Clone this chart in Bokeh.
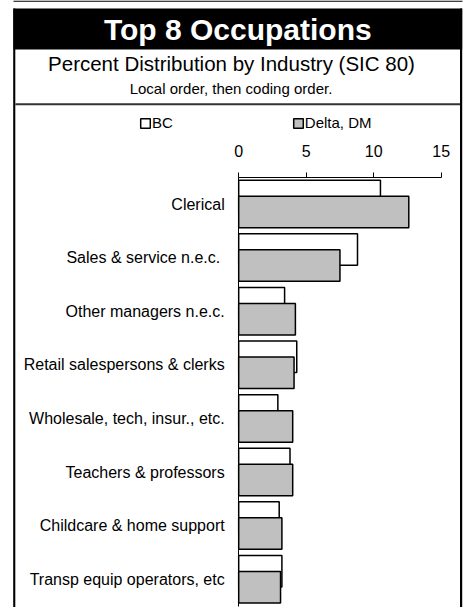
from bokeh.plotting import figure
from bokeh.models import (Range1d, LinearAxis, FixedTicker, Legend, LegendItem,
                          ColumnDataSource)
from bokeh.transform import dodge
from bokeh.core.properties import value
from bokeh.embed import file_html
from bokeh.resources import INLINE

# ---------------- data ----------------
categories = [
    "Clerical",
    "Sales & service  n.e.c.",
    "Other managers n.e.c.",
    "Retail salespersons & clerks",
    "Wholesale, tech, insur., etc.",
    "Teachers & professors",
    "Childcare & home support",
    "Transp equip operators, etc",
]
bc_values = [10.5, 8.8, 3.4, 4.3, 2.9, 3.8, 3.0, 3.2]
dm_values = [12.6, 7.5, 4.2, 4.1, 4.0, 4.0, 3.2, 3.1]
series_names = ["BC", "Delta, DM"]
x_ticks = [0, 5, 10, 15]
title_text = "Top 8 Occupations"
subtitle_text = "Percent Distribution by Industry (SIC 80)"
note_text = "Local order, then coding order."

# ---------------- layout (picture pixels) ----------------
W, H = 467, 607
FONT = "Liberation Sans"
X_ZERO = 238.2        # x of value 0
PX_PER_UNIT = 13.5    # px per percent
Y_CENTER0 = 203.5     # y of first category centre
BAND = 53.6           # px per category
BAR_H = 0.588
BAR_OFF = 0.149

p = figure(width=W, height=H, output_backend="svg", toolbar_location=None,
           x_axis_type=None, y_axis_type=None,
           x_range=Range1d(0, W), y_range=Range1d(H, 0),
           min_border=0, outline_line_color=None,
           background_fill_color="white", border_fill_color="white")

p.extra_x_ranges = {"val": Range1d((0 - X_ZERO) / PX_PER_UNIT, (W - X_ZERO) / PX_PER_UNIT)}
p.extra_y_ranges = {"cat": Range1d((H - Y_CENTER0) / BAND, (0 - Y_CENTER0) / BAND)}

# ---------------- frame decorations ----------------
p.quad(left=[13], right=[462], top=[0], bottom=[1.3], fill_color="black", line_color=None)
p.quad(left=[13], right=[461.7], top=[8], bottom=[49], fill_color="black", line_color=None)
p.quad(left=[12.7, 459.5], right=[14.8, 461.7], top=[8, 8], bottom=[H, H],
       fill_color="black", line_color=None)
p.quad(left=[14.8], right=[459.5], top=[102.7], bottom=[104.7],
       fill_color="#333333", line_color=None)

p.text(x=[237.3], y=[28.5], text=[title_text], text_align="center",
       text_baseline="middle", text_color="white",
       text_font=value(FONT), text_font_style="bold", text_font_size="30px")
p.text(x=[231], y=[62.8], text=[subtitle_text], text_align="center",
       text_baseline="middle", text_color="black",
       text_font=value(FONT), text_font_size="20.5px")
p.text(x=[230.5], y=[88.2], text=[note_text], text_align="center",
       text_baseline="middle", text_color="black",
       text_font=value(FONT), text_font_size="15px")

# ---------------- bars ----------------
src = ColumnDataSource(dict(idx=list(range(len(categories))), bc=bc_values, dm=dm_values))
r_bc = p.hbar(y=dodge("idx", -BAR_OFF), left=0, right="bc", height=BAR_H, source=src,
              x_range_name="val", y_range_name="cat",
              fill_color="white", line_color="black", line_width=1.5)
r_dm = p.hbar(y=dodge("idx", BAR_OFF), left=0, right="dm", height=BAR_H, source=src,
              x_range_name="val", y_range_name="cat",
              fill_color="#c0c0c0", line_color="black", line_width=1.5)

# ---------------- axes ----------------
xaxis = LinearAxis(x_range_name="val", y_range_name="cat", fixed_location=-0.5,
                   bounds=(x_ticks[0], x_ticks[-1]), ticker=FixedTicker(ticks=x_ticks),
                   major_tick_out=5, major_tick_in=0, minor_tick_out=0, minor_tick_in=0,
                   major_label_standoff=15, axis_line_color="black", major_tick_line_color="black",
                   major_label_text_font=FONT, major_label_text_font_size="16px",
                   major_label_text_color="black")
p.add_layout(xaxis, "above")

yaxis = LinearAxis(x_range_name="val", y_range_name="cat", fixed_location=0,
                   bounds=(-0.5, len(categories) - 0.5),
                   ticker=FixedTicker(ticks=list(range(len(categories)))),
                   major_label_overrides={i: c for i, c in enumerate(categories)},
                   major_tick_out=0, major_tick_in=0, minor_tick_out=0, minor_tick_in=0,
                   major_label_standoff=14, axis_line_color="black",
                   major_label_text_font=FONT, major_label_text_font_size="16px",
                   major_label_text_color="black")
p.add_layout(yaxis, "left")

# ---------------- legend ----------------
legend = Legend(items=[LegendItem(label=series_names[0], renderers=[r_bc]),
                       LegendItem(label=series_names[1], renderers=[r_dm])],
                orientation="horizontal", location=(139, 476),
                glyph_width=12, glyph_height=12, label_standoff=1, spacing=119,
                padding=0, margin=0, border_line_color=None, background_fill_alpha=0,
                label_text_font=FONT, label_text_font_size="15px",
                label_text_color="black", label_height=12)
p.add_layout(legend)

open("out.html", "w").write(file_html(p, INLINE))
